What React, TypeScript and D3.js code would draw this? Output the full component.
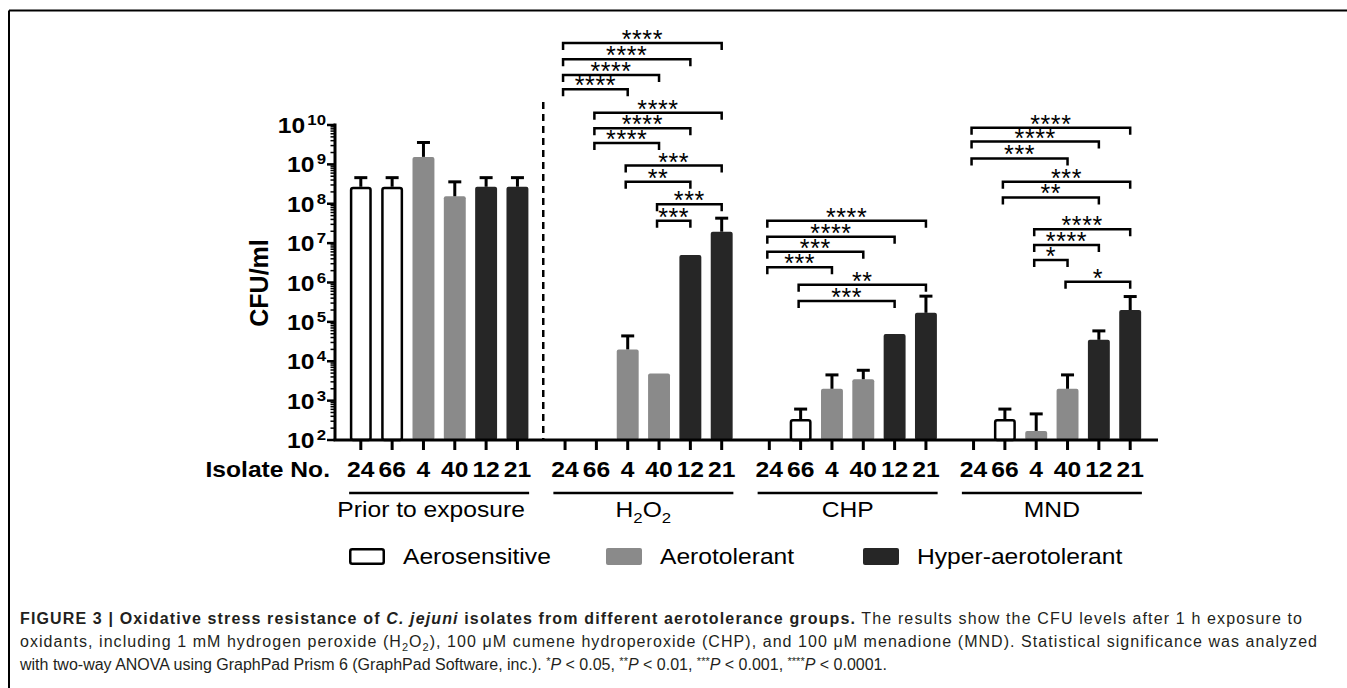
import React from "react";
import * as d3 from "d3";

// ---------- DATA ----------
const groups = ["Prior to exposure", "H2O2", "CHP", "MND"];
const isolates = ["24", "66", "4", "40", "12", "21"];
const isolateClass = ["Aerosensitive", "Aerosensitive", "Aerotolerant", "Aerotolerant", "Hyper-aerotolerant", "Hyper-aerotolerant"];
const classes = ["Aerosensitive", "Aerotolerant", "Hyper-aerotolerant"];

const priorMean = [2.7e8, 2.7e8, 1.55e9, 1.55e8, 2.7e8, 2.7e8];
const priorUpper = [4.6e8, 4.6e8, 3.6e9, 3.6e8, 4.6e8, 4.6e8];
const h2o2Mean = [null, null, 2.0e4, 4.9e3, 5.0e6, 1.95e7];
const h2o2Upper = [null, null, 4.4e4, null, null, 4.3e7];
const chpMean = [null, 3.4e2, 2.0e3, 3.5e3, 4.9e4, 1.7e5];
const chpUpper = [null, 6.1e2, 4.5e3, 5.9e3, null, 4.5e5];
const mndMean = [null, 3.4e2, 1.7e2, 2.0e3, 3.5e4, 2.0e5];
const mndUpper = [null, 6.1e2, 4.6e2, 4.5e3, 5.9e4, 4.4e5];

const meansByGroup = [priorMean, h2o2Mean, chpMean, mndMean];
const uppersByGroup = [priorUpper, h2o2Upper, chpUpper, mndUpper];

const yTickExponents = [2, 3, 4, 5, 6, 7, 8, 9, 10];

// significance brackets: [from isolate, to isolate, label, height (log10 CFU/ml)]
const sigH2O2: [string, string, string, number][] = [
  ["24", "21", "****", 12.08],
  ["24", "12", "****", 11.67],
  ["24", "40", "****", 11.27],
  ["24", "4", "****", 10.91],
  ["66", "21", "****", 10.31],
  ["66", "12", "****", 9.92],
  ["66", "40", "****", 9.54],
  ["4", "21", "***", 8.97],
  ["4", "12", "**", 8.56],
  ["40", "21", "***", 7.99],
  ["40", "12", "***", 7.57],
];
const sigCHP: [string, string, string, number][] = [
  ["24", "21", "****", 7.57],
  ["24", "12", "****", 7.16],
  ["24", "40", "***", 6.78],
  ["24", "4", "***", 6.39],
  ["66", "21", "**", 5.94],
  ["66", "12", "***", 5.53],
];
const sigMND: [string, string, string, number][] = [
  ["24", "21", "****", 9.93],
  ["24", "12", "****", 9.58],
  ["24", "40", "***", 9.15],
  ["66", "21", "***", 8.56],
  ["66", "12", "**", 8.16],
  ["4", "21", "****", 7.35],
  ["4", "12", "****", 6.95],
  ["4", "40", "*", 6.57],
  ["40", "21", "*", 6.02],
];
const sigByGroup = [null, sigH2O2, sigCHP, sigMND];

// ---------- STYLE ----------
const W = 1347;
const H = 688;
const FONT = "'Liberation Sans', Arial, Helvetica, sans-serif";
const SX = 1.12;
const classColor: Record<string, string> = {
  Aerosensitive: "#ffffff",
  Aerotolerant: "#8a8a8a",
  "Hyper-aerotolerant": "#262626",
};

const plot = { left: 335, right: 1158, top: 125, bottom: 440 };

const y = d3.scaleLog().domain([1e2, 1e10]).range([plot.bottom, plot.top]);
const xOuter = d3.scaleBand<string>().domain(groups).range([337, 1154]).paddingInner(0).paddingOuter(0);
const xInner = d3
  .scaleBand<string>()
  .domain(isolates)
  .range([0, xOuter.bandwidth()])
  .paddingInner(0.3)
  .paddingOuter(0.41);

const cx = (g: string, iso: string) => (xOuter(g) as number) + (xInner(iso) as number) + xInner.bandwidth() / 2;

function ST({ x, y: yy, anchor = "start", size, weight = "normal", children, sx = SX, fill = "#000" }: any) {
  return (
    <text
      transform={`translate(${x},${yy}) scale(${sx},1)`}
      textAnchor={anchor}
      fontSize={size}
      fontWeight={weight}
      fontFamily={FONT}
      fill={fill}
    >
      {children}
    </text>
  );
}

export default function App() {
  const bw = xInner.bandwidth();
  const minorTicks: number[] = [];
  for (let e = 2; e < 10; e++) for (let m = 2; m <= 9; m++) minorTicks.push(m * Math.pow(10, e));

  return (
    <svg
      width={W}
      height={H}
      viewBox={`0 0 ${W} ${H}`}
      style={{ position: "absolute", left: 0, top: 0, background: "#fff" }}
    >
      <rect x={0} y={0} width={W} height={H} fill="#fff" />
      {/* frame */}
      <line x1={9} y1={10.5} x2={W} y2={10.5} stroke="#000" strokeWidth={2} />
      <line x1={9} y1={10.5} x2={9} y2={H} stroke="#000" strokeWidth={2} />

      {/* bars */}
      {groups.map((g, gi) =>
        isolates.map((iso, i) => {
          const v = meansByGroup[gi][i];
          if (v == null) return null;
          const cls = isolateClass[i];
          const x0 = cx(g, iso) - bw / 2;
          const top = y(v);
          const isWhite = cls === "Aerosensitive";
          return (
            <rect
              key={`b-${gi}-${i}`}
              x={isWhite ? x0 + 1.25 : x0}
              y={isWhite ? top + 1.25 : top}
              width={isWhite ? bw - 2.5 : bw}
              height={isWhite ? plot.bottom - top - 1.25 : plot.bottom - top}
              rx={2}
              fill={classColor[cls]}
              stroke={isWhite ? "#000" : "none"}
              strokeWidth={2.5}
            />
          );
        })
      )}

      {/* error bars */}
      {groups.map((g, gi) =>
        isolates.map((iso, i) => {
          const v = meansByGroup[gi][i];
          const u = uppersByGroup[gi][i];
          if (v == null || u == null) return null;
          const c = cx(g, iso);
          return (
            <g key={`e-${gi}-${i}`} stroke="#000" strokeWidth={3}>
              <line x1={c} x2={c} y1={y(v)} y2={y(u)} />
              <line x1={c - 6.5} x2={c + 6.5} y1={y(u)} y2={y(u)} />
            </g>
          );
        })
      )}

      {/* dashed divider */}
      <line
        x1={(xOuter(groups[1]) as number) + 2}
        x2={(xOuter(groups[1]) as number) + 2}
        y1={102}
        y2={plot.bottom}
        stroke="#000"
        strokeWidth={2.5}
        strokeDasharray="7 5"
      />

      {/* y axis */}
      <line x1={plot.left} x2={plot.left} y1={plot.top - 1.5} y2={plot.bottom} stroke="#000" strokeWidth={3} />
      {yTickExponents.map((e) => (
        <line key={`yt${e}`} x1={plot.left - 8} x2={plot.left} y1={y(Math.pow(10, e))} y2={y(Math.pow(10, e))} stroke="#000" strokeWidth={2.5} />
      ))}
      {minorTicks.map((t, k) => (
        <line key={`ym${k}`} x1={plot.left - 4.5} x2={plot.left} y1={y(t)} y2={y(t)} stroke="#000" strokeWidth={1.5} />
      ))}
      {yTickExponents.map((e) => (
        <ST key={`yl${e}`} x={326} y={y(Math.pow(10, e)) + 8} anchor="end" size={22} weight="bold">
          <tspan>10</tspan>
          <tspan fontSize={15} dy={-8} dx={2}>{e}</tspan>
        </ST>
      ))}
      <text
        transform={`translate(268,283) rotate(-90)`}
        textAnchor="middle"
        fontSize={25}
        fontWeight="bold"
        fontFamily={FONT}
      >
        CFU/ml
      </text>

      {/* x axis */}
      <line x1={plot.left - 1.5} x2={plot.right} y1={plot.bottom} y2={plot.bottom} stroke="#000" strokeWidth={3} />
      {groups.map((g) =>
        isolates.map((iso) => (
          <line key={`xt-${g}-${iso}`} x1={cx(g, iso)} x2={cx(g, iso)} y1={plot.bottom} y2={plot.bottom + 10} stroke="#000" strokeWidth={3} />
        ))
      )}
      {groups.map((g) =>
        isolates.map((iso) => (
          <ST key={`xl-${g}-${iso}`} x={cx(g, iso)} y={477} anchor="middle" size={22} weight="bold">
            {iso}
          </ST>
        ))
      )}
      <ST x={330} y={477} anchor="end" size={22} weight="bold">
        Isolate No.
      </ST>

      {/* group lines and labels */}
      {groups.map((g, gi) => {
        const c = (xOuter(g) as number) + xOuter.bandwidth() / 2;
        return (
          <g key={`gl-${gi}`}>
            <line x1={c - 90} x2={c + 90} y1={493} y2={493} stroke="#000" strokeWidth={2.5} />
            {g === "H2O2" ? (
              <ST x={c} y={517} anchor="middle" size={22}>
                <tspan>H</tspan>
                <tspan fontSize={15} dy={6}>2</tspan>
                <tspan dy={-6}>O</tspan>
                <tspan fontSize={15} dy={6}>2</tspan>
              </ST>
            ) : (
              <ST x={c - (gi === 0 ? 8 : 0)} y={517} anchor="middle" size={22}>
                {g}
              </ST>
            )}
          </g>
        );
      })}

      {/* significance brackets */}
      {groups.map((g, gi) => {
        const sig = sigByGroup[gi];
        if (!sig) return null;
        return sig.map(([a, b, lab, h], k) => {
          const x1 = cx(g, a) - 2;
          const x2 = cx(g, b);
          const yy = y(Math.pow(10, h));
          return (
            <g key={`s-${gi}-${k}`}>
              <path
                d={`M${x1},${yy + 7}V${yy}H${x2}V${yy + 7}`}
                fill="none"
                stroke="#000"
                strokeWidth={2.5}
              />
              <text
                x={(x1 + x2) / 2}
                y={yy + 5}
                textAnchor="middle"
                fontSize={25}
                fontFamily={FONT}
                letterSpacing={0.6}
              >
                {lab}
              </text>
            </g>
          );
        });
      })}

      {/* legend */}
      {classes.map((c, i) => {
        const lx = 349 + i * 257;
        const isWhite = c === "Aerosensitive";
        return (
          <g key={`lg-${i}`}>
            <rect
              x={isWhite ? lx + 1.25 : lx}
              y={isWhite ? 549.25 : 548}
              width={isWhite ? 33.5 : 36}
              height={isWhite ? 14.5 : 17}
              rx={2}
              fill={classColor[c]}
              stroke={isWhite ? "#000" : "none"}
              strokeWidth={2.5}
            />
            <ST x={lx + 54} y={564} size={22}>
              {c}
            </ST>
          </g>
        );
      })}

      {/* caption */}
      <g fontFamily={FONT} fontSize={16} fill="#231f20">
        <text x={20} y={624} textLength={1282} lengthAdjust="spacing">
          <tspan fontWeight="bold">FIGURE 3 | Oxidative stress resistance of </tspan>
          <tspan fontWeight="bold" fontStyle="italic">C. jejuni</tspan>
          <tspan fontWeight="bold"> isolates from different aerotolerance groups.</tspan>
          <tspan> The results show the CFU levels after 1 h exposure to</tspan>
        </text>
        <text x={20} y={647} textLength={1297} lengthAdjust="spacing">
          <tspan>oxidants, including 1 mM hydrogen peroxide (H</tspan>
          <tspan fontSize={11} dy={4}>2</tspan>
          <tspan dy={-4}>O</tspan>
          <tspan fontSize={11} dy={4}>2</tspan>
          <tspan dy={-4}>), 100 μM cumene hydroperoxide (CHP), and 100 μM menadione (MND). Statistical significance was analyzed</tspan>
        </text>
        <text x={20} y={670}>
          <tspan>with two-way ANOVA using GraphPad Prism 6 (GraphPad Software, inc.). </tspan>
          <tspan fontSize={11} dy={-5}>*</tspan>
          <tspan dy={5} fontStyle="italic">P</tspan>
          <tspan> &lt; 0.05, </tspan>
          <tspan fontSize={11} dy={-5}>**</tspan>
          <tspan dy={5} fontStyle="italic">P</tspan>
          <tspan> &lt; 0.01, </tspan>
          <tspan fontSize={11} dy={-5}>***</tspan>
          <tspan dy={5} fontStyle="italic">P</tspan>
          <tspan> &lt; 0.001, </tspan>
          <tspan fontSize={11} dy={-5}>****</tspan>
          <tspan dy={5} fontStyle="italic">P</tspan>
          <tspan> &lt; 0.0001.</tspan>
        </text>
      </g>
    </svg>
  );
}
